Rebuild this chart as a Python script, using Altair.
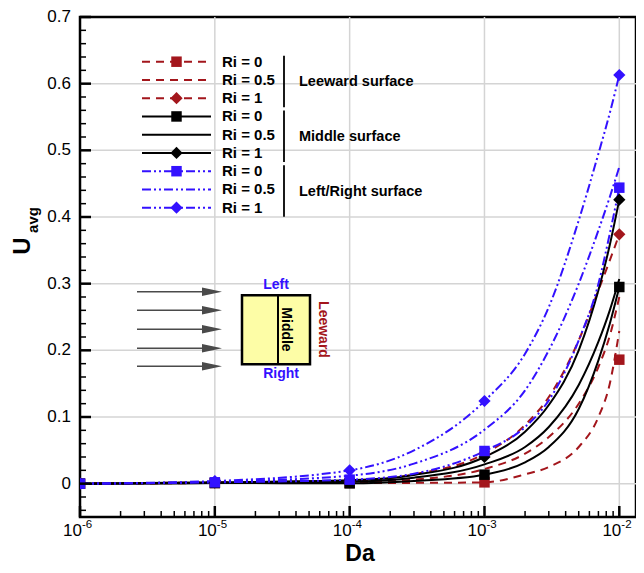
import altair as alt
import pandas as pd

# ---------------- data ----------------
DA = [1e-6, 1e-5, 1e-4, 1e-3, 1e-2]

# symbols (Ri = 0 squares, Ri = 1 diamonds)
LEE_RI0 = [0.0, 0.001, 0.001, 0.002, 0.186]
LEE_RI1 = [0.0, 0.002, 0.004, 0.045, 0.374]
MID_RI0 = [0.0, 0.001, 0.0005, 0.0135, 0.295]
MID_RI1 = [0.0, 0.002, 0.005, 0.040, 0.426]
LR_RI0 = [0.0, 0.002, 0.006, 0.049, 0.444]
LR_RI1 = [0.0, 0.004, 0.020, 0.124, 0.613]

# curves
CURVE_DA = [1e-6, 1e-5, 1e-4, 3e-4, 1e-3, 2e-3, 3e-3, 5e-3, 7e-3, 8.5e-3, 1e-2]
LEE_RI0_C = [0.0, 0.001, 0.001, 0.0012, 0.002, 0.014, 0.025, 0.055, 0.100, 0.150, 0.229]
LEE_RI05_C = [0.0, 0.001, 0.002, 0.006, 0.022, 0.045, 0.070, 0.120, 0.175, 0.222, 0.280]
LEE_RI1_C = [0.0, 0.002, 0.004, 0.014, 0.045, 0.088, 0.130, 0.215, 0.290, 0.335, 0.374]
MID_RI0_C = [0.0, 0.001, 0.0005, 0.004, 0.0135, 0.032, 0.055, 0.112, 0.185, 0.240, 0.295]
MID_RI05_C = [0.0, 0.001, 0.003, 0.009, 0.029, 0.055, 0.085, 0.148, 0.213, 0.260, 0.307]
MID_RI1_C = [0.0, 0.002, 0.005, 0.013, 0.040, 0.078, 0.118, 0.200, 0.290, 0.358, 0.426]
LR_RI0_C = [0.0, 0.002, 0.006, 0.015, 0.049, 0.085, 0.125, 0.215, 0.300, 0.375, 0.444]
LR_RI05_C = [0.0, 0.003, 0.012, 0.030, 0.081, 0.140, 0.200, 0.300, 0.380, 0.430, 0.475]
LR_RI1_C = [0.0, 0.004, 0.020, 0.050, 0.124, 0.195, 0.265, 0.395, 0.495, 0.556, 0.613]

X_MAJOR = [1e-6, 1e-5, 1e-4, 1e-3, 1e-2]
X_EXP = ["-6", "-5", "-4", "-3", "-2"]
X_MINOR = [k * 10.0 ** e for e in range(-6, -2) for k in range(2, 10)]
Y_MAJOR = [0.0, 0.1, 0.2, 0.3, 0.4, 0.5, 0.6, 0.7]
Y_LABELS = ["0", "0.1", "0.2", "0.3", "0.4", "0.5", "0.6", "0.7"]
Y_MINOR = [round(-0.04 + 0.02 * i, 2) for i in range(37)]
Y_MINOR = [v for v in Y_MINOR if round(v * 10, 6) != round(v * 10)]

RED = "#a3161c"
BLUE = "#3311ff"
BLACK = "#000000"
GRID = "#d4d4d4"
FONT = "Liberation Sans"

W, H = 556, 500
XS = alt.Scale(type="log", domain=[1e-6, 1.33e-2], nice=False)
YS = alt.Scale(domain=[-0.05, 0.7], nice=False, zero=False)

DASH_LEE = [8, 6]
DASH_LR = [9, 3, 2, 3, 2, 3]

series = [
    # name, curve, symbols, color, dash, shape
    ("lee0", LEE_RI0_C, LEE_RI0, RED, DASH_LEE, "square"),
    ("lee05", LEE_RI05_C, None, RED, DASH_LEE, None),
    ("lee1", LEE_RI1_C, LEE_RI1, RED, DASH_LEE, "diamond"),
    ("mid0", MID_RI0_C, MID_RI0, BLACK, None, "square"),
    ("mid05", MID_RI05_C, None, BLACK, None, None),
    ("mid1", MID_RI1_C, MID_RI1, BLACK, None, "diamond"),
    ("lr0", LR_RI0_C, LR_RI0, BLUE, DASH_LR, "square"),
    ("lr05", LR_RI05_C, None, BLUE, DASH_LR, None),
    ("lr1", LR_RI1_C, LR_RI1, BLUE, DASH_LR, "diamond"),
]

layers = []

# grid
grid_x = pd.DataFrame({"v": X_MAJOR[1:]})
layers.append(alt.Chart(grid_x).mark_rule(color=GRID, strokeWidth=1.5).encode(
    x=alt.X("v:Q", scale=XS, axis=None), y=alt.value(0), y2=alt.value(H)))
grid_y = pd.DataFrame({"v": Y_MAJOR[:-1]})
layers.append(alt.Chart(grid_y).mark_rule(color=GRID, strokeWidth=1.5).encode(
    y=alt.Y("v:Q", scale=YS, axis=None), x=alt.value(0), x2=alt.value(W)))

# curves
for name, cv, sy, col, dash, shape in series:
    df = pd.DataFrame({"Da": CURVE_DA, "U": cv})
    kw = dict(color=col, strokeWidth=2, interpolate="monotone", clip=True)
    if dash:
        kw["strokeDash"] = dash
    layers.append(alt.Chart(df).mark_line(**kw).encode(
        x=alt.X("Da:Q", scale=XS, axis=None), y=alt.Y("U:Q", scale=YS, axis=None)))

# symbols
for name, cv, sy, col, dash, shape in series:
    if sy is None:
        continue
    df = pd.DataFrame({"Da": DA, "U": sy})
    size = 110 if shape == "square" else 150
    layers.append(alt.Chart(df).mark_point(shape=shape, filled=True, size=size, color=col,
                                           opacity=1, clip=True).encode(
        x=alt.X("Da:Q", scale=XS, axis=None), y=alt.Y("U:Q", scale=YS, axis=None)))

# ticks (inward)
def xticks(vals, ln, sw):
    return alt.Chart(pd.DataFrame({"v": vals})).mark_rule(color=BLACK, strokeWidth=sw).encode(
        x=alt.X("v:Q", scale=XS, axis=None), y=alt.value(H), y2=alt.value(H - ln))

def yticks(vals, ln, sw):
    return alt.Chart(pd.DataFrame({"v": vals})).mark_rule(color=BLACK, strokeWidth=sw).encode(
        y=alt.Y("v:Q", scale=YS, axis=None), x=alt.value(0), x2=alt.value(ln))

layers += [xticks(X_MAJOR, 11, 2.5), xticks(X_MINOR, 6, 1.5),
           yticks(Y_MAJOR, 11, 2.5), yticks(Y_MINOR, 6, 1.5)]

# tick labels
ylab = pd.DataFrame({"v": Y_MAJOR, "t": Y_LABELS})
layers.append(alt.Chart(ylab).mark_text(align="right", baseline="middle", font=FONT,
                                        fontSize=17, color=BLACK, dx=-9).encode(
    y=alt.Y("v:Q", scale=YS, axis=None), x=alt.value(0), text="t:N"))
xlab = pd.DataFrame({"v": X_MAJOR, "e": X_EXP, "b": ["10"] * 5})
layers.append(alt.Chart(xlab).mark_text(align="right", baseline="alphabetic", font=FONT,
                                        fontSize=17, color=BLACK, dx=2).encode(
    x=alt.X("v:Q", scale=XS, axis=None), y=alt.value(H + 19), text="b:N"))
layers.append(alt.Chart(xlab).mark_text(align="left", baseline="alphabetic", font=FONT,
                                        fontSize=11.5, color=BLACK, dx=2).encode(
    x=alt.X("v:Q", scale=XS, axis=None), y=alt.value(H + 11), text="e:N"))

# axis titles
layers.append(alt.Chart(pd.DataFrame({"t": ["Da"]})).mark_text(
    font=FONT, fontSize=23, fontWeight="bold", color=BLACK, baseline="alphabetic").encode(
    x=alt.value(W / 2 + 2), y=alt.value(H + 44), text="t:N"))
layers.append(alt.Chart(pd.DataFrame({"t": ["U"]})).mark_text(
    font=FONT, fontSize=24, fontWeight="bold", color=BLACK, angle=270, baseline="alphabetic").encode(
    x=alt.value(-50), y=alt.value(229), text="t:N"))
layers.append(alt.Chart(pd.DataFrame({"t": ["avg"]})).mark_text(
    font=FONT, fontSize=15, fontWeight="bold", color=BLACK, angle=270, baseline="alphabetic").encode(
    x=alt.value(-42), y=alt.value(203), text="t:N"))

# legend
ROW0, DROW = 44.7, 18.25
LEG_TXT = ["Ri = 0", "Ri = 0.5", "Ri = 1"] * 3
for i, (name, cv, sy, col, dash, shape) in enumerate(series):
    yy = ROW0 + i * DROW
    kw = dict(color=col, strokeWidth=2)
    if dash:
        kw["strokeDash"] = dash
    layers.append(alt.Chart(pd.DataFrame({"a": [0]})).mark_rule(**kw).encode(
        x=alt.value(62), x2=alt.value(131), y=alt.value(yy)))
    if shape:
        size = 110 if shape == "square" else 150
        layers.append(alt.Chart(pd.DataFrame({"a": [0]})).mark_point(
            shape=shape, filled=True, size=size, color=col, opacity=1).encode(
            x=alt.value(96.5), y=alt.value(yy)))
    layers.append(alt.Chart(pd.DataFrame({"t": [LEG_TXT[i]]})).mark_text(
        align="left", baseline="middle", font=FONT, fontSize=15, fontWeight="bold", color=BLACK).encode(
        x=alt.value(142), y=alt.value(yy), text="t:N"))

GROUPS = ["Leeward surface", "Middle surface", "Left/Right surface"]
for g in range(3):
    top = ROW0 + g * 3 * DROW - 6
    bot = ROW0 + (g * 3 + 2) * DROW + 9
    layers.append(alt.Chart(pd.DataFrame({"a": [0]})).mark_rule(color=BLACK, strokeWidth=1.8).encode(
        x=alt.value(204), y=alt.value(top), y2=alt.value(bot)))
    layers.append(alt.Chart(pd.DataFrame({"t": [GROUPS[g]]})).mark_text(
        align="left", baseline="middle", font=FONT, fontSize=14.5, fontWeight="bold", color=BLACK).encode(
        x=alt.value(219), y=alt.value(ROW0 + (g * 3 + 1) * DROW + 2.5), text="t:N"))

# schematic
ARROW_Y = [274.7, 293.3, 312.3, 331.3, 349.3]
for ay in ARROW_Y:
    layers.append(alt.Chart(pd.DataFrame({"a": [0]})).mark_rule(color="#4a4a4a", strokeWidth=1.6).encode(
        x=alt.value(57), x2=alt.value(125), y=alt.value(ay)))
    layers.append(alt.Chart(pd.DataFrame({"a": [0]})).mark_point(
        shape="M -1 -0.42 L 1 0 L -1 0.42 Z", filled=True, size=400, color="#4a4a4a", opacity=1).encode(
        x=alt.value(132), y=alt.value(ay)))
layers.append(alt.Chart(pd.DataFrame({"a": [0]})).mark_rect(
    fill="#fdfda6", stroke=BLACK, strokeWidth=2.5).encode(
    x=alt.value(162), x2=alt.value(230), y=alt.value(278.3), y2=alt.value(347.3)))
layers.append(alt.Chart(pd.DataFrame({"a": [0]})).mark_rule(color=BLACK, strokeWidth=2).encode(
    x=alt.value(198), y=alt.value(278.3), y2=alt.value(347.3)))
layers.append(alt.Chart(pd.DataFrame({"t": ["Middle"]})).mark_text(
    font=FONT, fontSize=14, fontWeight="bold", color=BLACK, angle=90, baseline="middle").encode(
    x=alt.value(206), y=alt.value(312.5), text="t:N"))
layers.append(alt.Chart(pd.DataFrame({"t": ["Leeward"]})).mark_text(
    font=FONT, fontSize=14, fontWeight="bold", color=RED, angle=90, baseline="middle").encode(
    x=alt.value(243), y=alt.value(312.5), text="t:N"))
layers.append(alt.Chart(pd.DataFrame({"t": ["Left"]})).mark_text(
    font=FONT, fontSize=14, fontWeight="bold", color=BLUE, baseline="middle").encode(
    x=alt.value(196), y=alt.value(267.5), text="t:N"))
layers.append(alt.Chart(pd.DataFrame({"t": ["Right"]})).mark_text(
    font=FONT, fontSize=14, fontWeight="bold", color=BLUE, baseline="middle").encode(
    x=alt.value(201), y=alt.value(356.5), text="t:N"))

chart = alt.layer(*layers).properties(
    width=W, height=H,
    autosize=alt.AutoSizeParams(type="none"),
    padding={"left": 72, "top": 9, "right": 0, "bottom": 55},
).configure_view(stroke=BLACK, strokeWidth=2.5)

chart.save("out.html", embed_options={"renderer": "svg", "actions": False})
